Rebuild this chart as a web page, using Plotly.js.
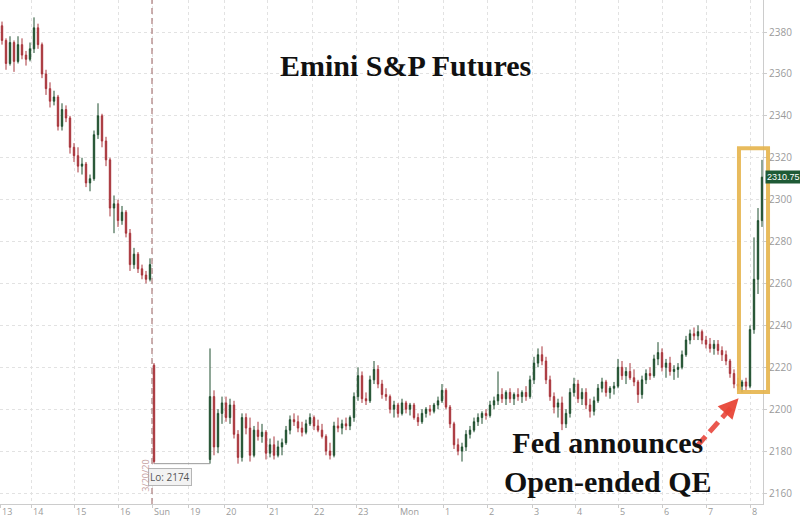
<!DOCTYPE html>
<html>
<head>
<meta charset="utf-8">
<script src="https://cdn.plot.ly/plotly-3.0.1.min.js"></script>
<style>
  html, body { margin: 0; padding: 0; background: #ffffff; }
  #chart { width: 800px; height: 517px; }
</style>
</head>
<body>
<div id="chart"></div>
<script>
// ---- Data ----
// Candles: Friday session (38), Sunday open (1), then Sunday night / Monday (139)
const openP = [
  2383,2376,2365,2375,2366,2374,2369,2367,2372,2382,2374,2360,2353,2347,2349,2335,2343,2339,2325,2321,
  2316,2317,2308,2310,2331,2340,2328,2319,2296,2298,2290,2294,2284,2269,2274,2267,2264,2262,
  2221,
  2176,2206,2182,2198,2203,2196,2202,2188,2177,2196,
  2191,2178,2190,2187,2189,2179,2183,2178,2182,2184,
  2190,2195,2194,2191,2189,2193,2196,2192,2190,2187,
  2180,2178,2192,2191,2193,2192,2196,2206,2216,2205,
  2204,2214,2219,2212,2207,2206,2200,2202,2198,2203,
  2200,2202,2196,2194,2198,2200,2199,2202,2204,2209,
  2201,2193,2183,2180,2182,2188,2190,2194,2196,2198,
  2197,2202,2204,2207,2205,2208,2205,2207,2206,2208,
  2206,2214,2222,2226,2223,2214,2206,2201,2203,2193,
  2198,2208,2212,2205,2208,2202,2199,2204,2210,2213,
  2208,2210,2211,2220,2216,2218,2215,2213,2207,2214,
  2217,2216,2224,2227,2220,2222,2218,2219,2220,2226,
  2233,2236,2235,2237,2233,2231,2229,2231,2228,2226,
  2223,2217,2212,2211,2213,2211,2238,2262,2290
];
const highP = [
  2385,2377,2378,2376,2378,2377,2371,2375,2387,2384,2375,2362,2356,2352,2350,2346,2345,2340,2327,2325,
  2320,2318,2312,2333,2346,2341,2330,2320,2302,2300,2297,2295,2286,2277,2275,2269,2266,2272,
  2222,
  2229,2209,2200,2206,2206,2205,2204,2190,2198,2198,
  2196,2192,2194,2193,2190,2186,2187,2185,2186,2192,
  2197,2198,2197,2194,2195,2198,2197,2195,2193,2188,
  2184,2194,2196,2195,2196,2197,2208,2220,2218,2208,
  2216,2223,2221,2214,2210,2207,2204,2203,2205,2204,
  2203,2203,2198,2200,2201,2202,2203,2206,2212,2210,
  2202,2194,2186,2184,2190,2192,2196,2198,2199,2200,
  2204,2206,2218,2210,2209,2210,2208,2210,2209,2211,
  2216,2225,2229,2230,2225,2216,2208,2205,2206,2200,
  2210,2215,2214,2210,2210,2205,2206,2212,2215,2214,
  2211,2213,2224,2223,2220,2222,2219,2214,2216,2219,
  2220,2226,2232,2229,2224,2225,2221,2222,2228,2235,
  2238,2239,2240,2238,2235,2234,2233,2233,2230,2228,
  2224,2219,2215,2214,2215,2240,2282,2296,2319
];
const lowP = [
  2374,2362,2364,2361,2365,2367,2364,2366,2370,2372,2358,2350,2344,2345,2333,2333,2337,2322,2318,2313,
  2312,2306,2304,2309,2329,2325,2316,2292,2284,2287,2288,2282,2266,2267,2265,2262,2260,2261,
  2174,
  2174,2178,2179,2193,2194,2193,2186,2174,2175,2188,
  2175,2177,2185,2184,2176,2177,2176,2177,2178,2183,
  2188,2192,2189,2187,2188,2192,2190,2189,2186,2178,
  2176,2177,2189,2188,2190,2190,2194,2204,2203,2202,
  2203,2212,2210,2205,2204,2198,2196,2196,2197,2198,
  2197,2195,2192,2193,2196,2197,2198,2200,2203,2200,
  2191,2181,2178,2175,2180,2186,2189,2192,2193,2195,
  2196,2200,2202,2203,2202,2203,2202,2204,2203,2204,
  2205,2212,2220,2221,2212,2204,2198,2196,2190,2191,
  2196,2206,2203,2202,2200,2196,2197,2203,2208,2206,
  2205,2207,2210,2214,2212,2214,2211,2203,2205,2212,
  2214,2215,2221,2218,2215,2216,2214,2215,2219,2225,
  2231,2233,2233,2231,2229,2227,2226,2226,2223,2221,
  2215,2210,2209,2208,2209,2210,2236,2255,2287
];
const closeP = [
  2376,2365,2375,2366,2374,2369,2367,2372,2382,2374,2360,2353,2347,2349,2335,2343,2339,2325,2321,2316,
  2317,2308,2310,2331,2340,2328,2319,2296,2298,2290,2294,2284,2269,2274,2267,2264,2262,2269,
  2175,
  2206,2182,2198,2203,2196,2202,2188,2177,2196,2191,
  2178,2190,2187,2189,2179,2183,2178,2182,2184,2190,
  2195,2194,2191,2189,2193,2196,2192,2190,2187,2180,
  2178,2192,2191,2193,2192,2196,2206,2216,2205,2204,
  2214,2219,2212,2207,2206,2200,2202,2198,2203,2200,
  2202,2196,2194,2198,2200,2199,2202,2204,2209,2201,
  2193,2183,2180,2182,2188,2190,2194,2196,2198,2197,
  2202,2204,2207,2205,2208,2205,2207,2206,2208,2206,
  2214,2222,2226,2223,2214,2206,2201,2203,2193,2198,
  2208,2212,2205,2208,2202,2199,2204,2210,2213,2208,
  2210,2211,2220,2216,2218,2215,2213,2207,2214,2217,
  2216,2224,2227,2220,2222,2218,2219,2220,2226,2233,
  2236,2235,2237,2233,2231,2229,2231,2228,2226,2223,
  2217,2212,2211,2213,2211,2238,2262,2290,2310.75
];
// Bar slots: Friday bars, then the locked limit-down stretch (no bars), then the rest
const fridayBars = 38;
const lockedGapBars = 13;
// x-axis labels and their bar positions
const xTickText = ['13','14','15','16','Sun','19','20','21','22','23','Mon','1','2','3','4','5','6','7','8'];
const xTickPos  = [-0.5,7.25,18,29,37.5,46.5,55.5,66.25,77.5,88.5,99,110.25,121.25,132.5,143.25,154,165,176,187];
const yTicks = [2160,2180,2200,2220,2240,2260,2280,2300,2320,2340,2360,2380];

// ---- Build ----
const slots = openP.map((_, k) => (k <= fridayBars ? k : k + lockedGapBars));
const lastClose = closeP[closeP.length - 1];
let loIdx = 0;
lowP.forEach((v, k) => { if (v < lowP[loIdx]) loIdx = k; });
const loVal = lowP[loIdx];
const sessionBreak = (slots[fridayBars - 1] + slots[fridayBars]) / 2;

const trace = {
  type: 'candlestick',
  x: slots, open: openP, high: highP, low: lowP, close: closeP,
  increasing: { line: { color: '#1f4f2e', width: 1 }, fillcolor: '#1f4f2e' },
  decreasing: { line: { color: '#a8343a', width: 1 }, fillcolor: '#a8343a' },
  whiskerwidth: 0,
  hoverinfo: 'skip'
};

const tickFont = { family: 'Open Sans, Noto Sans, sans-serif', size: 10, color: '#9a9a9a' };
const xLabFont = { family: 'Open Sans, Noto Sans, sans-serif', size: 9, color: '#9a9a9a' };
const serif = 'Liberation Serif, Times New Roman, serif';

const annotations = xTickText.map((t, k) => ({
  text: t, x: xTickPos[k], xref: 'x', y: 0, yref: 'paper',
  xanchor: 'left', yanchor: 'middle', yshift: -7, xshift: 1, borderpad: 0,
  showarrow: false, font: xLabFont
}));

annotations.push(
  { text: 'Emini S&P Futures', xref: 'paper', yref: 'paper', x: 0.531, y: 0.871,
    xanchor: 'center', yanchor: 'middle', showarrow: false,
    font: { family: serif, size: 30, color: '#111111', weight: 'bold' } },
  { text: 'Fed announces<br>Open-ended QE', xref: 'paper', yref: 'paper', x: 0.797, y: 0.083,
    xanchor: 'center', yanchor: 'middle', showarrow: false, align: 'center',
    font: { family: serif, size: 30, color: '#111111', weight: 'bold' } },
  { text: 'Lo: ' + loVal, x: slots[loIdx] + 4, xref: 'x', y: loVal, yref: 'y',
    xanchor: 'center', yanchor: 'top', yshift: -4, showarrow: false,
    bgcolor: '#f2f2f2', bordercolor: '#b5b5b5', borderwidth: 1, borderpad: 1,
    font: { family: 'Open Sans, sans-serif', size: 10, color: '#555555' } },
  { text: '3/20/20', x: sessionBreak, xref: 'x', y: 0.056, yref: 'paper',
    xanchor: 'center', yanchor: 'middle', xshift: -6, textangle: -90, showarrow: false,
    font: { family: 'Open Sans, sans-serif', size: 9, color: '#c4a0a0' } },
  { text: lastClose.toFixed(2), xref: 'paper', x: 1, y: lastClose, yref: 'y',
    xanchor: 'left', yanchor: 'middle', xshift: 2, showarrow: false,
    bgcolor: '#1e5a36', borderpad: 1,
    font: { family: 'Liberation Sans, Arial, sans-serif', size: 9, color: '#ffffff' } },
  { text: '', xref: 'paper', yref: 'paper', x: 0.968, y: 0.21,
    showarrow: true, arrowhead: 2, arrowsize: 1, arrowwidth: 4, arrowcolor: 'rgba(232,70,55,0.95)',
    ax: -11, ay: 12 }
);

const shapes = [
  { type: 'line', xref: 'x', yref: 'paper', x0: sessionBreak, x1: sessionBreak, y0: 0, y1: 1,
    line: { color: 'rgba(175,130,130,0.85)', width: 1.5, dash: '6px,4px' } },
  { type: 'line', xref: 'x', yref: 'y', x0: slots[loIdx], x1: slots[fridayBars + 1], y0: loVal, y1: loVal,
    line: { color: '#9a9a9a', width: 1 } },
  { type: 'rect', xref: 'paper', yref: 'paper', x0: 0.9685, x1: 1.0066, y0: 0.222, y1: 0.706,
    line: { color: 'rgba(230,180,75,0.9)', width: 4 }, fillcolor: 'rgba(0,0,0,0)' },
  { type: 'line', xref: 'paper', yref: 'paper', x0: 0.9135, y0: 0.115, x1: 0.962, y1: 0.198,
    line: { color: 'rgba(232,70,60,0.9)', width: 5, dash: '13px,6px' } }
];

const layout = {
  width: 800, height: 517,
  margin: { l: 0, r: 37, t: 0, b: 13 },
  paper_bgcolor: '#ffffff', plot_bgcolor: '#ffffff',
  showlegend: false,
  boxgap: 0.5,
  xaxis: {
    range: [-0.5, 190.25], tickvals: xTickPos, showticklabels: false,
    ticks: 'outside', ticklen: 3, tickcolor: '#cccccc',
    showgrid: true, gridcolor: '#e2e2e2', griddash: 'dot', gridwidth: 1,
    showline: true, linecolor: '#cccccc', zeroline: false,
    rangeslider: { visible: false }, fixedrange: true
  },
  yaxis: {
    side: 'right', range: [2154.75, 2395.3], tickvals: yTicks,
    ticks: 'outside', ticklen: 3, tickcolor: '#cccccc', tickfont: tickFont,
    showgrid: true, gridcolor: '#e2e2e2', griddash: 'dot', gridwidth: 1,
    showline: true, linecolor: '#cccccc', zeroline: false, fixedrange: true
  },
  annotations: annotations,
  shapes: shapes
};

Plotly.newPlot('chart', [trace], layout, { displayModeBar: false, staticPlot: true });
</script>
</body>
</html>
